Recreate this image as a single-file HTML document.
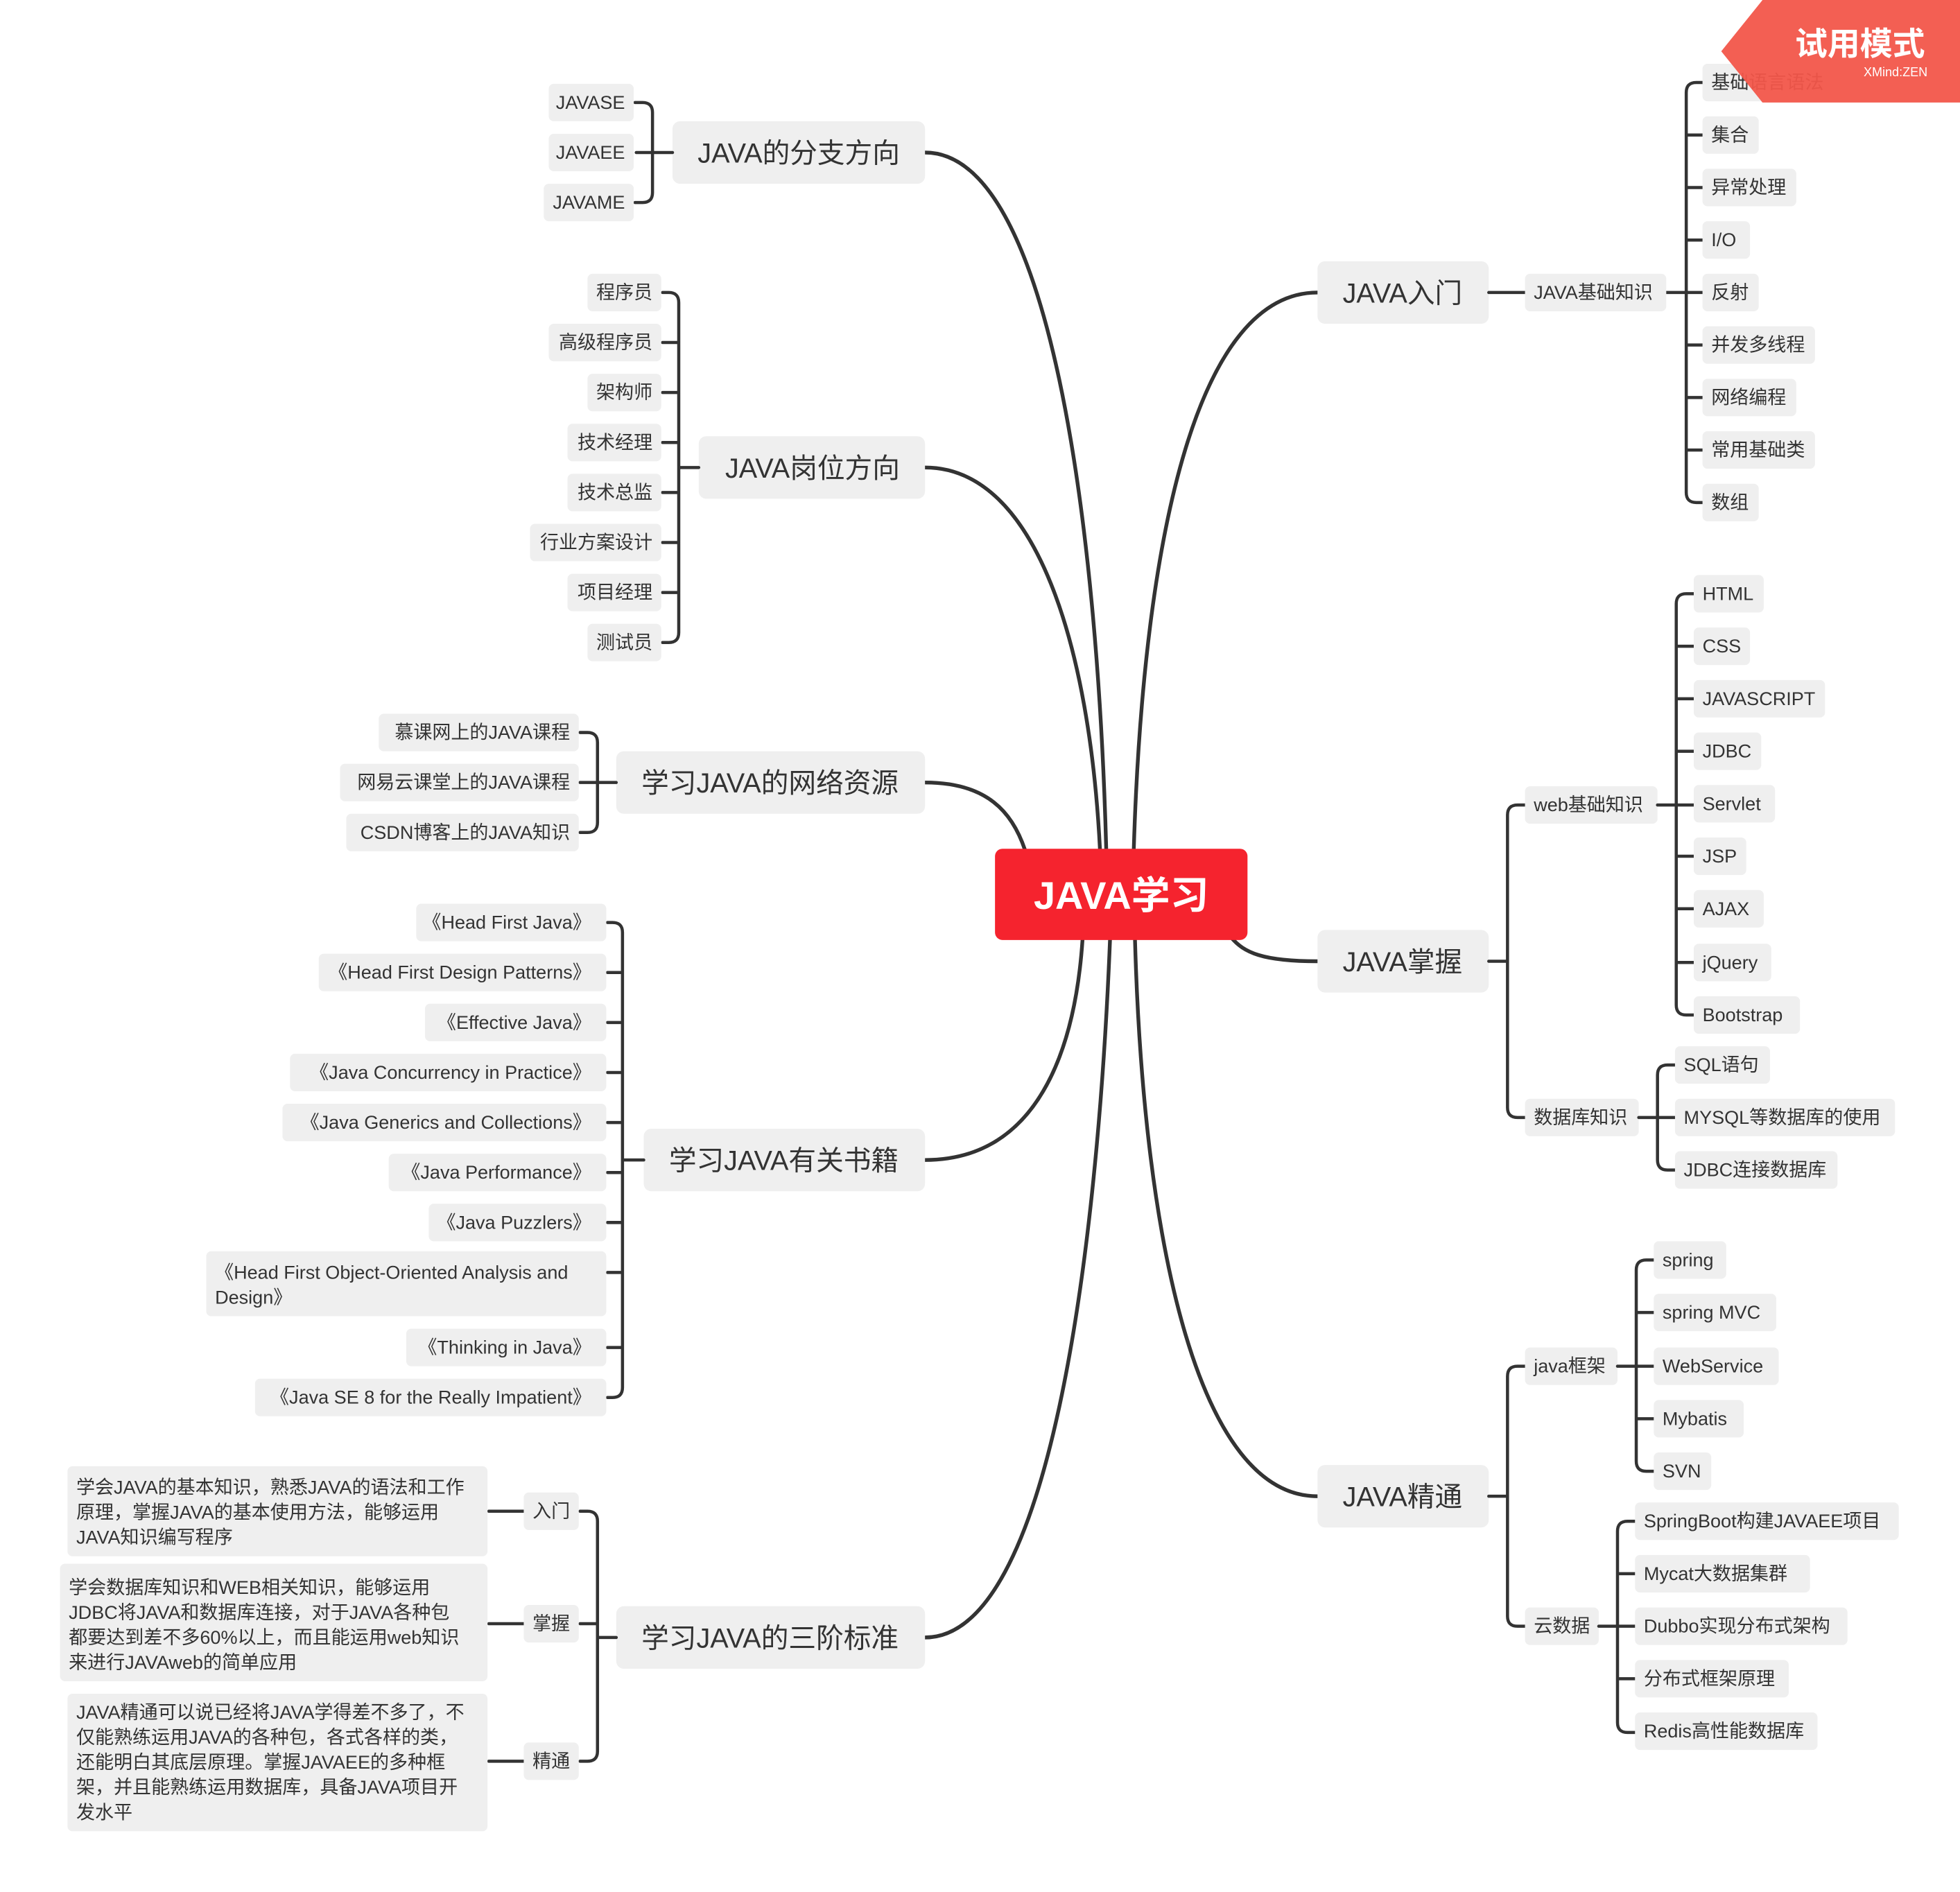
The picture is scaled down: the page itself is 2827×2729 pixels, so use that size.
<!DOCTYPE html>
<html><head><meta charset="utf-8"><style>
html,body{margin:0;padding:0;background:#fff;}
svg{display:block;}
text{font-family:"Liberation Sans","Noto Sans CJK SC",sans-serif;fill:#333;}
.l{font-size:15px;}
.m{font-size:22px;}
.b{fill:#efefef;}
.c{fill:none;stroke:#333;stroke-width:3;stroke-linecap:round;}
.k{fill:none;stroke:#333;stroke-width:2.5;stroke-linecap:round;}
</style></head><body>
<svg width="2827" height="2729" viewBox="0 0 1568 1513.6" xmlns="http://www.w3.org/2000/svg">
<!-- main curves -->
<path class="c" d="M740,122 C840,122 878,420 885,680"/>
<path class="c" d="M740,374 C830,374 872,520 880,680"/>
<path class="c" d="M740,626 C790,626 810,650 820,680"/>
<path class="c" d="M740,928 C830,928 860,840 866,752"/>
<path class="c" d="M740,1310 C840,1310 878,1000 888,752"/>
<path class="c" d="M1054,234 C960,234 915,420 907,680"/>
<path class="c" d="M1054,769 C1010,769 995,762 985,750"/>
<path class="c" d="M1054,1197 C960,1197 915,1000 908,752"/>

<!-- central -->
<rect x="796" y="679" width="202" height="73" rx="6" fill="#f5232e"/>
<text x="897" y="727" text-anchor="middle" style="font-size:31px;font-weight:bold;fill:#fff">JAVA学习</text>

<!-- left main nodes -->
<rect class="b" x="538" y="97" width="202" height="50" rx="6"/><text class="m" x="639" y="130" text-anchor="middle">JAVA的分支方向</text>
<rect class="b" x="559" y="349" width="181" height="50" rx="6"/><text class="m" x="650" y="382" text-anchor="middle">JAVA岗位方向</text>
<rect class="b" x="493" y="601" width="247" height="50" rx="6"/><text class="m" x="616" y="634" text-anchor="middle">学习JAVA的网络资源</text>
<rect class="b" x="515" y="903" width="225" height="50" rx="6"/><text class="m" x="627" y="936" text-anchor="middle">学习JAVA有关书籍</text>
<rect class="b" x="493" y="1285" width="247" height="50" rx="6"/><text class="m" x="616" y="1318" text-anchor="middle">学习JAVA的三阶标准</text>

<!-- right main nodes -->
<rect class="b" x="1054" y="209" width="137" height="50" rx="6"/><text class="m" x="1122" y="242" text-anchor="middle">JAVA入门</text>
<rect class="b" x="1054" y="744" width="137" height="50" rx="6"/><text class="m" x="1122" y="777" text-anchor="middle">JAVA掌握</text>
<rect class="b" x="1054" y="1172" width="137" height="50" rx="6"/><text class="m" x="1122" y="1205" text-anchor="middle">JAVA精通</text>

<!-- 分支 bracket -->
<path class="k" d="M538,122H509M508,82H514Q522,82 522,90V154Q522,162 514,162H508"/>
<rect class="b" x="439" y="67" width="68" height="30" rx="4"/><text class="l" x="500" y="87" text-anchor="end">JAVASE</text>
<rect class="b" x="439" y="107" width="68" height="30" rx="4"/><text class="l" x="500" y="127" text-anchor="end">JAVAEE</text>
<rect class="b" x="435" y="147" width="72" height="30" rx="4"/><text class="l" x="500" y="167" text-anchor="end">JAVAME</text>

<!-- 岗位 bracket -->
<path class="k" d="M559,374H543M530,234H535Q543,234 543,242V506Q543,514 535,514H530M530,274H543M530,314H543M530,354H543M530,394H543M530,434H543M530,474H543"/>
<rect class="b" x="470" y="219" width="59" height="30" rx="4"/><text class="l" x="522" y="239" text-anchor="end">程序员</text>
<rect class="b" x="439" y="259" width="90" height="30" rx="4"/><text class="l" x="522" y="279" text-anchor="end">高级程序员</text>
<rect class="b" x="470" y="299" width="59" height="30" rx="4"/><text class="l" x="522" y="319" text-anchor="end">架构师</text>
<rect class="b" x="454" y="339" width="75" height="30" rx="4"/><text class="l" x="522" y="359" text-anchor="end">技术经理</text>
<rect class="b" x="454" y="379" width="75" height="30" rx="4"/><text class="l" x="522" y="399" text-anchor="end">技术总监</text>
<rect class="b" x="424" y="419" width="105" height="30" rx="4"/><text class="l" x="522" y="439" text-anchor="end">行业方案设计</text>
<rect class="b" x="454" y="459" width="75" height="30" rx="4"/><text class="l" x="522" y="479" text-anchor="end">项目经理</text>
<rect class="b" x="470" y="499" width="59" height="30" rx="4"/><text class="l" x="522" y="519" text-anchor="end">测试员</text>

<!-- 网络资源 bracket -->
<path class="k" d="M493,626H464M464,586H470Q478,586 478,594V658Q478,666 470,666H464"/>
<rect class="b" x="303" y="571" width="160" height="30" rx="4"/><text class="l" x="456" y="591" text-anchor="end">慕课网上的JAVA课程</text>
<rect class="b" x="272" y="611" width="191" height="30" rx="4"/><text class="l" x="456" y="631" text-anchor="end">网易云课堂上的JAVA课程</text>
<rect class="b" x="277" y="651" width="186" height="30" rx="4"/><text class="l" x="456" y="671" text-anchor="end">CSDN博客上的JAVA知识</text>

<!-- 书籍 bracket -->
<path class="k" d="M515,928H498M486,738H490Q498,738 498,746V1110Q498,1118 490,1118H486M486,778H498M486,818H498M486,858H498M486,898H498M486,938H498M486,978H498M486,1018H498M486,1078H498"/>
<rect class="b" x="333" y="723" width="152" height="30" rx="4"/><text class="l" x="473" y="743" text-anchor="end">《Head First Java》</text>
<rect class="b" x="255" y="763" width="230" height="30" rx="4"/><text class="l" x="473" y="783" text-anchor="end">《Head First Design Patterns》</text>
<rect class="b" x="340" y="803" width="145" height="30" rx="4"/><text class="l" x="473" y="823" text-anchor="end">《Effective Java》</text>
<rect class="b" x="232" y="843" width="253" height="30" rx="4"/><text class="l" x="473" y="863" text-anchor="end">《Java Concurrency in Practice》</text>
<rect class="b" x="226" y="883" width="259" height="30" rx="4"/><text class="l" x="473" y="903" text-anchor="end">《Java Generics and Collections》</text>
<rect class="b" x="311" y="923" width="174" height="30" rx="4"/><text class="l" x="473" y="943" text-anchor="end">《Java Performance》</text>
<rect class="b" x="343" y="963" width="142" height="30" rx="4"/><text class="l" x="473" y="983" text-anchor="end">《Java Puzzlers》</text>
<rect class="b" x="165" y="1001" width="320" height="52" rx="4"/><text class="l" x="172" y="1023">《Head First Object-Oriented Analysis and</text><text class="l" x="172" y="1043">Design》</text>
<rect class="b" x="325" y="1063" width="160" height="30" rx="4"/><text class="l" x="473" y="1083" text-anchor="end">《Thinking in Java》</text>
<rect class="b" x="204" y="1103" width="281" height="30" rx="4"/><text class="l" x="473" y="1123" text-anchor="end">《Java SE 8 for the Really Impatient》</text>

<!-- 三阶 bracket -->
<path class="k" d="M493,1310H478M464,1209H470Q478,1209 478,1217V1401Q478,1409 470,1409H464M464,1299H478M419,1209H391M419,1299H391M419,1409H391"/>
<rect class="b" x="419" y="1194" width="44" height="30" rx="4"/><text class="l" x="441" y="1214" text-anchor="middle">入门</text>
<rect class="b" x="419" y="1284" width="44" height="30" rx="4"/><text class="l" x="441" y="1304" text-anchor="middle">掌握</text>
<rect class="b" x="419" y="1394" width="44" height="30" rx="4"/><text class="l" x="441" y="1414" text-anchor="middle">精通</text>
<rect class="b" x="54" y="1173" width="336" height="72" rx="4"/>
<text class="l" x="61" y="1195">学会JAVA的基本知识，熟悉JAVA的语法和工作</text><text class="l" x="61" y="1215">原理，掌握JAVA的基本使用方法，能够运用</text><text class="l" x="61" y="1235">JAVA知识编写程序</text>
<rect class="b" x="48" y="1251" width="342" height="94" rx="4"/>
<text class="l" x="55" y="1275">学会数据库知识和WEB相关知识，能够运用</text><text class="l" x="55" y="1295">JDBC将JAVA和数据库连接，对于JAVA各种包</text><text class="l" x="55" y="1315">都要达到差不多60%以上，而且能运用web知识</text><text class="l" x="55" y="1335">来进行JAVAweb的简单应用</text>
<rect class="b" x="54" y="1355" width="336" height="110" rx="4"/>
<text class="l" x="61" y="1375">JAVA精通可以说已经将JAVA学得差不多了，不</text><text class="l" x="61" y="1395">仅能熟练运用JAVA的各种包，各式各样的类，</text><text class="l" x="61" y="1415">还能明白其底层原理。掌握JAVAEE的多种框</text><text class="l" x="61" y="1435">架，并且能熟练运用数据库，具备JAVA项目开</text><text class="l" x="61" y="1455">发水平</text>

<!-- JAVA入门 -->
<path class="k" d="M1191,234H1220M1333,234H1362M1362,66H1357Q1349,66 1349,74V394Q1349,402 1357,402H1362M1349,108H1362M1349,150H1362M1349,192H1362M1349,276H1362M1349,318H1362M1349,360H1362"/>
<rect class="b" x="1220" y="219" width="113" height="30" rx="4"/><text class="l" x="1227" y="239">JAVA基础知识</text>
<rect class="b" x="1362" y="51" width="105" height="30" rx="4"/><text class="l" x="1369" y="71">基础语言语法</text>
<rect class="b" x="1362" y="93" width="45" height="30" rx="4"/><text class="l" x="1369" y="113">集合</text>
<rect class="b" x="1362" y="135" width="75" height="30" rx="4"/><text class="l" x="1369" y="155">异常处理</text>
<rect class="b" x="1362" y="177" width="38" height="30" rx="4"/><text class="l" x="1369" y="197">I/O</text>
<rect class="b" x="1362" y="219" width="45" height="30" rx="4"/><text class="l" x="1369" y="239">反射</text>
<rect class="b" x="1362" y="261" width="90" height="30" rx="4"/><text class="l" x="1369" y="281">并发多线程</text>
<rect class="b" x="1362" y="303" width="75" height="30" rx="4"/><text class="l" x="1369" y="323">网络编程</text>
<rect class="b" x="1362" y="345" width="90" height="30" rx="4"/><text class="l" x="1369" y="365">常用基础类</text>
<rect class="b" x="1362" y="387" width="45" height="30" rx="4"/><text class="l" x="1369" y="407">数组</text>

<!-- JAVA掌握 -->
<path class="k" d="M1191,769H1206M1220,644H1214Q1206,644 1206,652V886Q1206,894 1214,894H1220"/>
<rect class="b" x="1220" y="629" width="106" height="30" rx="4"/><text class="l" x="1227" y="649">web基础知识</text>
<path class="k" d="M1326,644H1355M1355,475H1349Q1341,475 1341,483V804Q1341,812 1349,812H1355M1341,517H1355M1341,559H1355M1341,601H1355M1341,685H1355M1341,727H1355M1341,770H1355"/>
<rect class="b" x="1355" y="460" width="56" height="30" rx="4"/><text class="l" x="1362" y="480">HTML</text>
<rect class="b" x="1355" y="502" width="45" height="30" rx="4"/><text class="l" x="1362" y="522">CSS</text>
<rect class="b" x="1355" y="544" width="105" height="30" rx="4"/><text class="l" x="1362" y="564">JAVASCRIPT</text>
<rect class="b" x="1355" y="586" width="54" height="30" rx="4"/><text class="l" x="1362" y="606">JDBC</text>
<rect class="b" x="1355" y="628" width="65" height="30" rx="4"/><text class="l" x="1362" y="648">Servlet</text>
<rect class="b" x="1355" y="670" width="42" height="30" rx="4"/><text class="l" x="1362" y="690">JSP</text>
<rect class="b" x="1355" y="712" width="56" height="30" rx="4"/><text class="l" x="1362" y="732">AJAX</text>
<rect class="b" x="1355" y="755" width="62" height="30" rx="4"/><text class="l" x="1362" y="775">jQuery</text>
<rect class="b" x="1355" y="797" width="85" height="30" rx="4"/><text class="l" x="1362" y="817">Bootstrap</text>
<rect class="b" x="1220" y="879" width="91" height="30" rx="4"/><text class="l" x="1227" y="899">数据库知识</text>
<path class="k" d="M1311,894H1340M1340,852H1334Q1326,852 1326,860V928Q1326,936 1334,936H1340"/>
<rect class="b" x="1340" y="837" width="76" height="30" rx="4"/><text class="l" x="1347" y="857">SQL语句</text>
<rect class="b" x="1340" y="879" width="176" height="30" rx="4"/><text class="l" x="1347" y="899">MYSQL等数据库的使用</text>
<rect class="b" x="1340" y="921" width="130" height="30" rx="4"/><text class="l" x="1347" y="941">JDBC连接数据库</text>

<!-- JAVA精通 -->
<path class="k" d="M1191,1197H1206M1220,1093H1214Q1206,1093 1206,1101V1293Q1206,1301 1214,1301H1220"/>
<rect class="b" x="1220" y="1078" width="74" height="30" rx="4"/><text class="l" x="1227" y="1098">java框架</text>
<path class="k" d="M1294,1093H1323M1323,1008H1317Q1309,1008 1309,1016V1169Q1309,1177 1317,1177H1323M1309,1050H1323M1309,1135H1323"/>
<rect class="b" x="1323" y="993" width="58" height="30" rx="4"/><text class="l" x="1330" y="1013">spring</text>
<rect class="b" x="1323" y="1035" width="98" height="30" rx="4"/><text class="l" x="1330" y="1055">spring MVC</text>
<rect class="b" x="1323" y="1078" width="100" height="30" rx="4"/><text class="l" x="1330" y="1098">WebService</text>
<rect class="b" x="1323" y="1120" width="72" height="30" rx="4"/><text class="l" x="1330" y="1140">Mybatis</text>
<rect class="b" x="1323" y="1162" width="46" height="30" rx="4"/><text class="l" x="1330" y="1182">SVN</text>
<rect class="b" x="1220" y="1286" width="59" height="30" rx="4"/><text class="l" x="1227" y="1306">云数据</text>
<path class="k" d="M1279,1301H1308M1308,1217H1302Q1294,1217 1294,1225V1378Q1294,1386 1302,1386H1308M1294,1259H1308M1294,1343H1308"/>
<rect class="b" x="1308" y="1202" width="211" height="30" rx="4"/><text class="l" x="1315" y="1222">SpringBoot构建JAVAEE项目</text>
<rect class="b" x="1308" y="1244" width="140" height="30" rx="4"/><text class="l" x="1315" y="1264">Mycat大数据集群</text>
<rect class="b" x="1308" y="1286" width="170" height="30" rx="4"/><text class="l" x="1315" y="1306">Dubbo实现分布式架构</text>
<rect class="b" x="1308" y="1328" width="123" height="30" rx="4"/><text class="l" x="1315" y="1348">分布式框架原理</text>
<rect class="b" x="1308" y="1370" width="146" height="30" rx="4"/><text class="l" x="1315" y="1390">Redis高性能数据库</text>

<!-- trial badge -->
<path d="M1410,0H1568V82H1410L1377,41Z" fill="#f2564a" opacity="0.95"/>
<text x="1488" y="44" text-anchor="middle" style="font-size:26px;font-weight:bold;fill:#fff">试用模式</text>
<text x="1542" y="61" text-anchor="end" style="font-size:10px;fill:#fff">XMind<tspan style="font-weight:normal">:ZEN</tspan></text>
</svg>
</body></html>
